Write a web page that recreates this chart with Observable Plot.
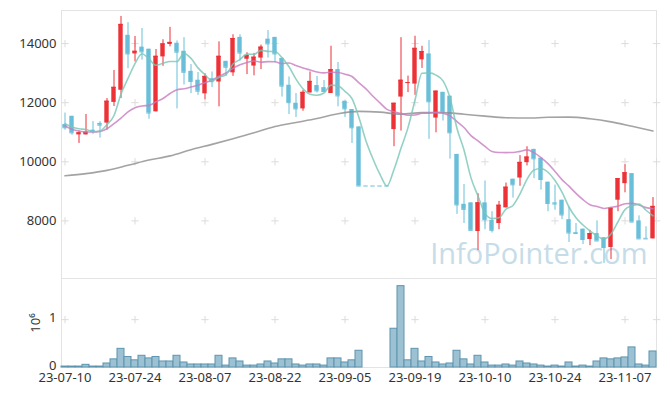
<!DOCTYPE html>
<html><head><meta charset="utf-8">
<script src="https://cdn.jsdelivr.net/npm/d3@7"></script>
<script src="https://cdn.jsdelivr.net/npm/@observablehq/plot@0.6"></script>
<style>
body{margin:0;background:#fff;}
#chart{width:665px;height:396px;position:relative;}
#chart svg{display:block;}
</style></head><body><div id="chart"></div>
<script>
const dates = ["23-07-10","23-07-11","23-07-12","23-07-13","23-07-14","23-07-17","23-07-18","23-07-19","23-07-20","23-07-21",
"23-07-24","23-07-25","23-07-26","23-07-27","23-07-28","23-07-31","23-08-01","23-08-02","23-08-03","23-08-04",
"23-08-07","23-08-08","23-08-09","23-08-10","23-08-11","23-08-14","23-08-16","23-08-17","23-08-18","23-08-21",
"23-08-22","23-08-23","23-08-24","23-08-25","23-08-28","23-08-29","23-08-30","23-08-31","23-09-01","23-09-04",
"23-09-05","23-09-06","23-09-07","23-09-08","23-09-11","23-09-12","23-09-13","23-09-14","23-09-15","23-09-18",
"23-09-19","23-09-20","23-09-21","23-09-22","23-09-25","23-09-26","23-09-27","23-10-04","23-10-05","23-10-06",
"23-10-10","23-10-11","23-10-12","23-10-13","23-10-16","23-10-17","23-10-18","23-10-19","23-10-20","23-10-23",
"23-10-24","23-10-25","23-10-26","23-10-27","23-10-30","23-10-31","23-11-01","23-11-02","23-11-03","23-11-06",
"23-11-07","23-11-08","23-11-09","23-11-10","23-11-13"];
const open = [11260,11540,10910,10910,11070,11300,11310,12010,12420,14280,
13650,13880,13810,11690,13550,13970,14010,13740,13060,12760,
12300,12810,12700,13400,13010,14210,13470,13240,13510,14150,
14210,13500,12590,11980,11790,12330,12580,12510,12310,13120,
12050,11770,11180,9180,9180,9180,9180,11090,12190,12660,
12630,13450,13650,11480,12350,12220,10250,8560,8610,7640,
8610,8020,7910,8440,9410,9450,9970,10420,10120,9310,
8610,8700,8040,7600,7720,7370,7570,7430,7100,8700,
9260,9600,8000,7410,7390];
const high = [11650,11540,11040,11600,11360,11360,12140,13090,14920,14710,
14240,14510,13810,13800,14130,14550,14090,14200,13290,13020,
12980,13040,14060,13400,14300,14300,13690,13670,13950,14440,
14210,13500,12870,12310,12420,13040,12890,12750,13910,13360,
12050,11770,11180,9180,9180,9180,9180,11980,14200,12900,
14250,13910,14100,12390,12350,12220,10250,9230,8610,8920,
9350,8310,8660,9280,9410,10210,10510,10420,10120,9310,
9210,8700,8470,7910,7720,7680,8000,7430,8430,9430,
9900,9600,8170,7800,8790];
const low = [11070,10900,10620,10910,10930,10800,11070,11870,12140,13150,
13380,13440,11440,11690,13230,13890,11790,12600,12310,12250,
12100,12510,11860,12890,12890,13410,12950,12910,13120,13510,
13350,12190,11600,11500,11710,12330,12330,12350,12310,11860,
11500,10620,9180,9180,9180,9180,9180,10510,11040,12340,
12250,13160,10760,10980,11380,10090,8220,7910,7680,7000,
7700,7590,7700,8440,8770,9170,9860,9430,9040,8310,
8360,8040,7270,7550,7200,7160,7320,6560,6690,8310,
8950,7960,7390,7390,7390];
const close = [11150,10980,10980,11000,11020,11240,12050,12520,14650,13650,
13740,13720,11650,13570,13990,14040,13710,13030,12720,12390,
12890,12710,13570,13200,14170,13680,13590,13540,13880,13990,
13650,12560,12000,11790,12350,12720,12400,12380,13120,12230,
11790,11150,9180,9180,9180,9180,9180,11980,12760,12680,
13840,13730,12030,12390,11690,10980,8540,8390,7680,8610,
8040,7680,8530,9140,9220,9980,10160,10100,9400,8590,
8570,8200,7590,7570,7370,7570,7320,7100,8430,9430,
9630,7960,7390,7390,8490];
const volume = [20000,20000,20000,56000,20000,20000,84000,170000,390000,220000,
150000,245000,190000,220000,126000,126000,245000,105000,63000,63000,
63000,63000,245000,40000,190000,126000,40000,40000,63000,126000,
84000,170000,170000,63000,40000,63000,63000,40000,190000,190000,
105000,150000,350000,0,0,0,0,810000,1700000,150000,
390000,126000,220000,105000,63000,84000,350000,170000,63000,245000,
105000,40000,40000,63000,40000,126000,84000,63000,40000,20000,
40000,20000,105000,20000,40000,20000,126000,190000,170000,190000,
210000,420000,63000,40000,335000];
const ma5Start = [11290,11180,11120,11090];
const ma20Start = [11210,11100,11040,11010,11010,11030,11120,11290,11480,11690,
11830,11890,11910,12030,12140,12310,12440,12470,12530];
const ma60Index = [0,3,6,9,12,15,18,21,24,27,30,33,36,39,42,45,48,51,54,57,60,63,66,69,72,75,78,81,84];
const ma60Value = [9525,9600,9710,9880,10060,10200,10410,10590,10780,10980,11195,11330,11465,11625,11705,11680,11610,11665,11665,11610,
11545,11490,11480,11505,11510,11455,11350,11200,11045];
const priceTicks = [8000,10000,12000,14000];
const volumeTicks = [0,1000000];
const xTickLabels = ["23-07-10","23-07-24","23-08-07","23-08-22","23-09-05","23-09-19","23-10-10","23-10-24","23-11-07"];
const watermark = "InfoPointer.com";

const RED = "#ec3137", BLUE = "#69bed9";
const n = dates.length;
const candles = d3.range(n).map(i => ({date: dates[i], open: open[i], high: high[i], low: low[i], close: close[i],
  color: close[i] > open[i] ? RED : BLUE}));
const ma5 = d3.range(n).map(i => ({date: dates[i], v: i >= 4 ? d3.mean(close.slice(i - 4, i + 1)) : ma5Start[i]}));
const ma20 = d3.range(n).map(i => ({date: dates[i], v: i >= 19 ? d3.mean(close.slice(i - 19, i + 1)) : ma20Start[i]}));
const ma60 = ma60Index.map((k, j) => ({date: dates[k], v: ma60Value[j]}));
const vols = d3.range(n).filter(i => volume[i] > 0).map(i => ({date: dates[i], volume: volume[i]}));

const font = {fontFamily: "'Noto Sans', sans-serif", fontSize: "13px", color: "#333", background: "#fff", overflow: "visible"};
const xBand = {type: "band", domain: dates, paddingInner: 0, paddingOuter: 0, align: 0.5};
const GRID = "#dcdcdc";

const price = Plot.plot({
  width: 665, height: 278, marginTop: 10, marginBottom: 0, marginLeft: 61, marginRight: 9,
  style: font,
  color: {type: "identity"},
  x: {...xBand, axis: null},
  y: {domain: [6050, 15120], axis: null},
  marks: [
    Plot.frame({stroke: "#e3e3e3"}),
    Plot.axisY({ticks: priceTicks, tickSize: 0, tickPadding: 5, label: null, tickFormat: d => String(d), fill: "#333"}),
    Plot.dot(d3.cross(xTickLabels, priceTicks), {x: d => d[0], y: d => d[1], symbol: "plus", r: 2.5, stroke: GRID, strokeWidth: 1}),
    Plot.dot(priceTicks, {y: d => d, frameAnchor: "right", symbol: "plus", r: 2.5, stroke: GRID, strokeWidth: 1}),
    Plot.text([watermark], {frameAnchor: "bottom-right", textAnchor: "end", lineAnchor: "middle", dx: -9, dy: -24,
      fontSize: 29, fontFamily: "'Open Sans', sans-serif", fill: "#c6dce8"}),
    Plot.ruleX(candles, {x: "date", y1: "low", y2: "high", stroke: "color", strokeWidth: 1}),
    Plot.barY(candles, {x: "date", y1: "open", y2: "close", fill: "color", insetLeft: 1.3, insetRight: 1.3}),
    Plot.tickY(candles, {x: "date", y: "close", stroke: "color", strokeWidth: 1, insetLeft: 1.3, insetRight: 1.3}),
    Plot.line(ma60, {x: "date", y: "v", stroke: "#8c8c8c", strokeWidth: 1.6, strokeOpacity: 0.8, curve: "monotone-x"}),
    Plot.line(ma20, {x: "date", y: "v", stroke: "#c77cbf", strokeWidth: 1.6, strokeOpacity: 0.8, curve: "monotone-x"}),
    Plot.line(ma5, {x: "date", y: "v", stroke: "#79c6b6", strokeWidth: 1.6, strokeOpacity: 0.8, curve: "monotone-x"})
  ]
});

const vol = Plot.plot({
  width: 665, height: 118, marginTop: 0, marginBottom: 29, marginLeft: 61, marginRight: 9,
  style: font,
  x: {...xBand, axis: null},
  y: {domain: [0, 1860000], axis: null},
  marks: [
    Plot.frame({stroke: "#e3e3e3"}),
    Plot.axisX({ticks: xTickLabels, tickSize: 0, tickPadding: 5, label: null, fill: "#333"}),
    Plot.axisY({ticks: volumeTicks, tickSize: 0, tickPadding: 5, tickFormat: d => String(d / 1e6), fill: "#333", dy: -2,
      label: "10⁶", labelAnchor: "center", labelArrow: "none", labelOffset: 31}),
    Plot.dot(d3.cross(xTickLabels, [1000000]), {x: d => d[0], y: d => d[1], symbol: "plus", r: 2.5, stroke: GRID, strokeWidth: 1}),
    Plot.dot([1000000], {y: d => d, frameAnchor: "right", symbol: "plus", r: 2.5, stroke: GRID, strokeWidth: 1}),
    Plot.barY(vols, {x: "date", y: "volume", fill: "#9cc1d3", stroke: "#5e94ae", strokeWidth: 1})
  ]
});

const root = document.getElementById("chart");
root.appendChild(price);
root.appendChild(vol);
</script></body></html>
